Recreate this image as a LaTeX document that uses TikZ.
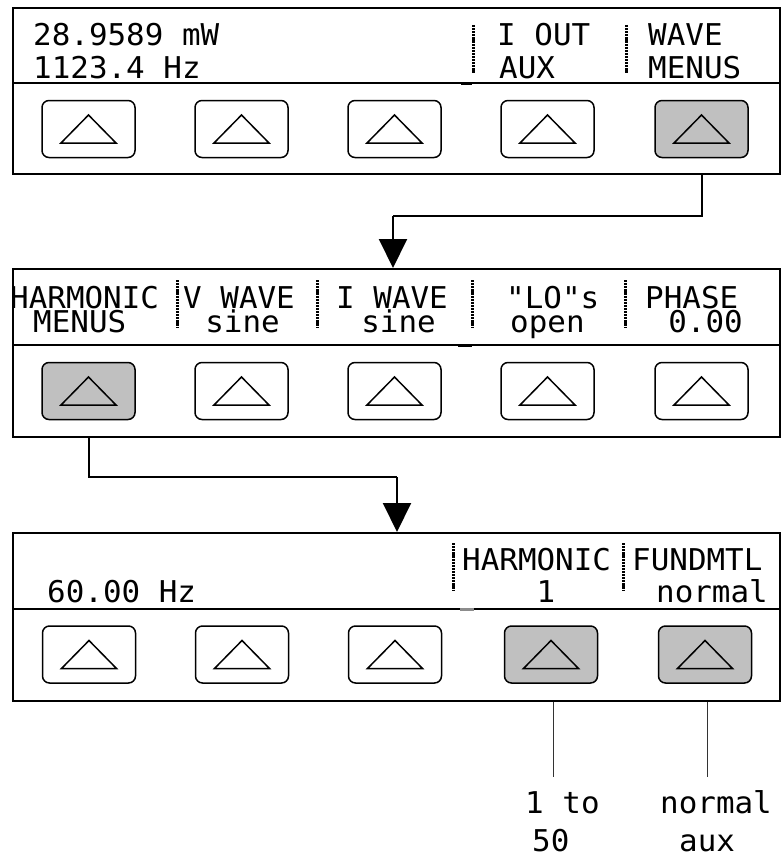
\documentclass[tikz,border=0pt]{standalone}
\usepackage{fontspec}
\usetikzlibrary{arrows.meta,calc}
\newfontfamily\lcd[FakeStretch=1.03]{DejaVu Sans Mono}
\newcommand\lcdfont{\lcd\fontsize{30}{30}\selectfont}
\definecolor{keygray}{HTML}{C0C0C0}
\tikzset{
  panel/.style={draw, line width=2pt, minimum width=767pt, anchor=north west, inner sep=0pt},
  keybox/.style={draw, line width=1.5pt, rounded corners=7pt, minimum width=93pt, minimum height=57pt, inner sep=0pt, fill=white},
  keyon/.style={keybox, fill=keygray},
  keytri/.style={draw, line width=1.5pt, line join=miter},
  divline/.style={line width=1.5pt},
  lcdbar/.style={line width=3pt, dash pattern=on 2.2pt off 0.9pt},
  lcdmark/.style={line width=3pt},
  lcdbase/.style={inner sep=0pt, font=\lcdfont, text height=21pt, text depth=0pt},
  lcd/.style={lcdbase, anchor=base west},
  lcdr/.style={lcdbase, anchor=base east},
  lcdc/.style={lcdbase, anchor=base},
  conn/.style={line width=2pt},
  connarrow/.style={conn, -{Triangle[width=28pt,length=29pt]}},
  lead/.style={line width=1pt, draw=black!80}
}
\newcommand\mkkey[4]{%
  \node[#4] (#1) at (#2,#3) {};
  \draw[keytri] ($(#1.center)+(-27.5,14)$) -- ++(55,0) -- ++(-27.5,-28) -- cycle;
}
\begin{document}
\begin{tikzpicture}[x=1pt,y=-1pt]
\useasboundingbox (0,0) rectangle (781,859);
% ---------- panel 1 ----------
\node[panel, minimum height=166pt] (p1) at (12,7) {};
\draw[divline] (12,83) -- (779,83);
\draw[lcdmark] (461,83) -- (472,83);
\node[lcd] (t11) at (33,46) {28.9589 mW};
\node[lcd] (t12) at (33,78) {1123.4 Hz};
\node[lcd] (t13) at (497,46) {I OUT};
\node[lcd] (t14) at (499,78) {AUX};
\node[lcd] (t15) at (648,46) {WAVE};
\node[lcd] (t16) at (648,78) {MENUS};
\draw[lcdbar] (473,25) -- (473,73);
\draw[lcdbar] (626,25) -- (626,73);
\mkkey{b11}{88.5}{129}{keybox}
\mkkey{b12}{241.5}{129}{keybox}
\mkkey{b13}{394.5}{129}{keybox}
\mkkey{b14}{547.5}{129}{keybox}
\mkkey{b15}{701.5}{129}{keyon}
% ---------- panel 2 ----------
\node[panel, minimum height=168pt] (p2) at (12,268) {};
\draw[divline] (12,345) -- (779,345);
\draw[lcdmark] (458,345) -- (472,345);
\node[lcd] (t21) at (10,308) {HARMONIC};
\node[lcd] (t22) at (33,332) {MENUS};
\node[lcd] (t23) at (183,308) {V WAVE};
\node[lcdr] (t24) at (280,332) {sine};
\node[lcd] (t25) at (336,308) {I WAVE};
\node[lcdr] (t26) at (436,332) {sine};
\node[lcd] (t27) at (506,308) {"LO"s};
\node[lcd] (t28) at (510,332) {open};
\node[lcd] (t29) at (645,308) {PHASE};
\node[lcdr] (t2a) at (743,332) {0.00};
\draw[lcdbar] (177,280) -- (177,328);
\draw[lcdbar] (317,280) -- (317,328);
\draw[lcdbar] (472,280) -- (472,328);
\draw[lcdbar] (625,280) -- (625,328);
\mkkey{b21}{88.5}{391}{keyon}
\mkkey{b22}{241.5}{391}{keybox}
\mkkey{b23}{394.5}{391}{keybox}
\mkkey{b24}{547.5}{391}{keybox}
\mkkey{b25}{701.5}{391}{keybox}
% ---------- panel 3 ----------
\node[panel, minimum height=168pt] (p3) at (12,532) {};
\draw[divline] (12,609) -- (779,609);
\draw[lcdmark, draw=black!45] (460,609) -- (474,609);
\node[lcd] (t31) at (47,602) {60.00 Hz};
\node[lcd] (t32) at (462,570) {HARMONIC};
\node[lcdc] (t33) at (546,602) {1};
\node[lcd] (t34) at (632,570) {FUNDMTL};
\node[lcdr] (t35) at (768,602) {normal};
\draw[lcdbar] (453,543) -- (453,590);
\draw[lcdbar] (623,543) -- (623,590);
\mkkey{b31}{89}{654.5}{keybox}
\mkkey{b32}{242}{654.5}{keybox}
\mkkey{b33}{395}{654.5}{keybox}
\mkkey{b34}{551}{654.5}{keyon}
\mkkey{b35}{705}{654.5}{keyon}
% ---------- connectors ----------
\coordinate (j1) at (393,216);
\draw[conn] (b15.south |- p1.south) |- (j1);
\draw[connarrow] (j1) -- (j1 |- p2.north);
\coordinate (j2) at (397,477);
\draw[conn] (b21.south |- p2.south) |- (j2);
\draw[connarrow] (j2) -- (j2 |- p3.north);
% ---------- leads and options ----------
\coordinate (e4) at (553,777);
\coordinate (e5) at (707,777);
\draw[lead] (e4 |- p3.south) -- (e4);
\draw[lead] (e5 |- p3.south) -- (e5);
\node[lcd] (o1) at (525,813) {1 to};
\node[lcd] (o2) at (532,851) {50};
\node[lcd] (o3) at (660,813) {normal};
\node[lcd] (o4) at (679,851) {aux};
\end{tikzpicture}
\end{document}
